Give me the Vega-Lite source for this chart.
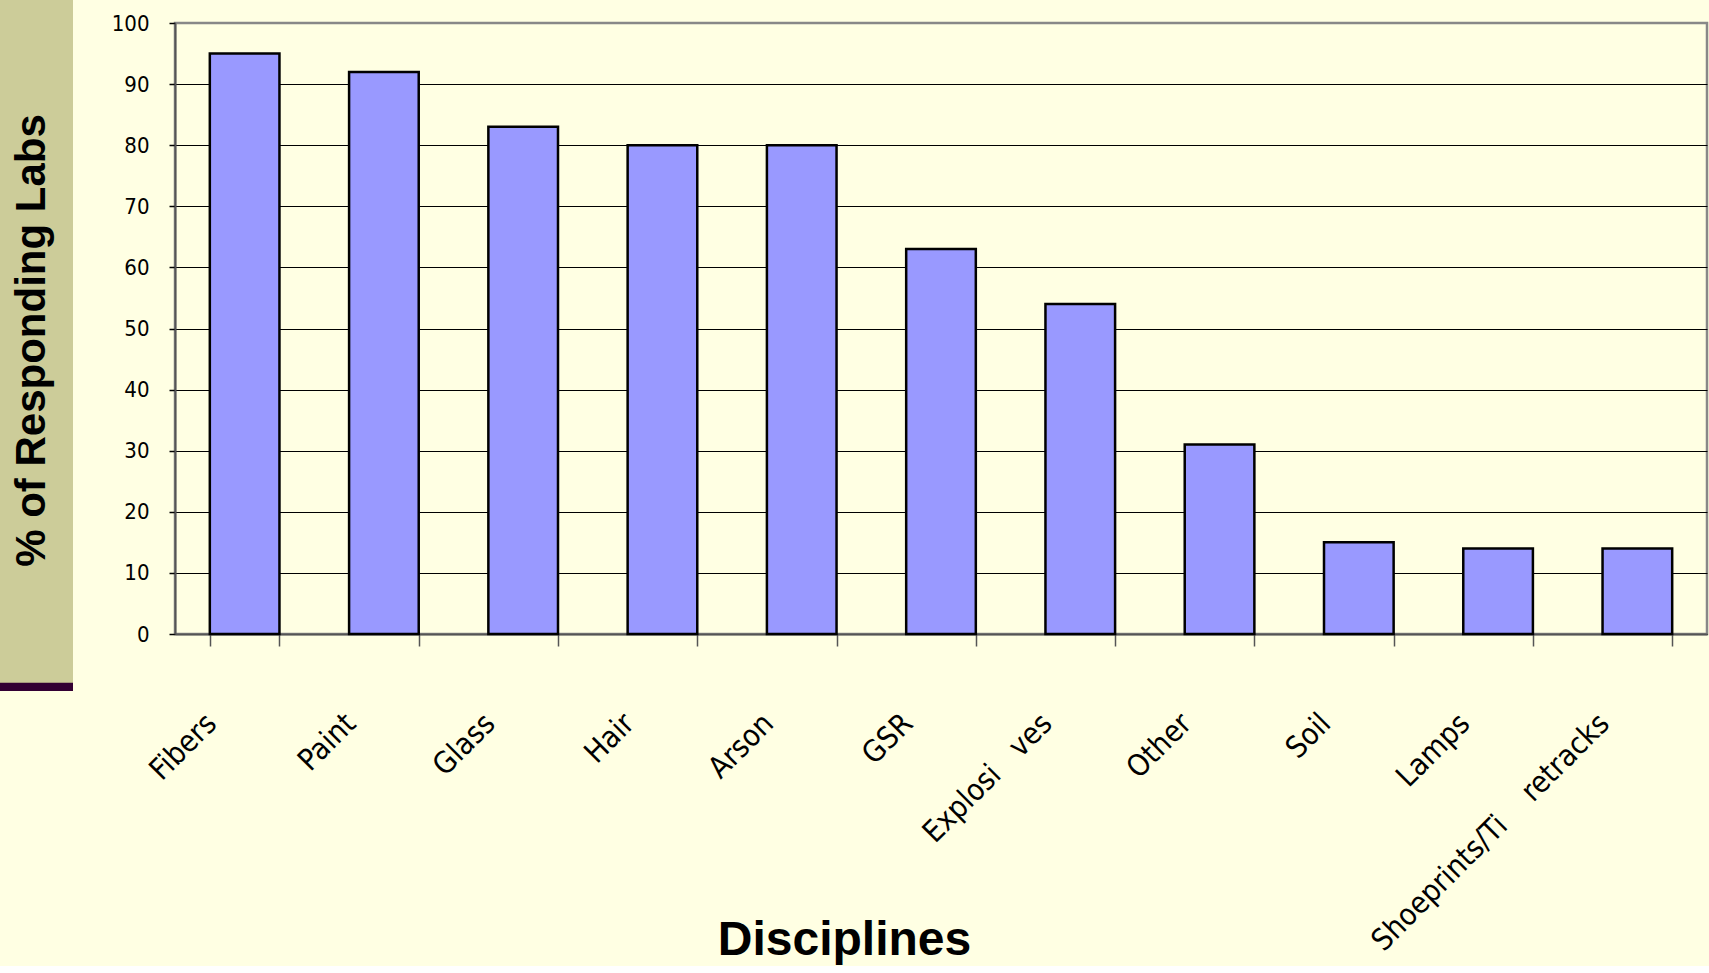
{
  "$schema": "https://vega.github.io/schema/vega-lite/v6.json",
  "background": "#FFFFE3",
  "padding": 0,
  "spacing": 36,
  "config": {"view": {"stroke": null}},
  "hconcat": [
    {
      "width": 73,
      "height": 691,
      "view": {"fill": "#CCCC99", "stroke": null},
      "layer": [
        {
          "data": {"values": [{"y": 0, "y2": 1.2}]},
          "mark": {"type": "rect", "color": "#330033"},
          "encoding": {
            "y": {"field": "y", "type": "quantitative", "scale": {"domain": [0, 100], "nice": false}, "axis": null},
            "y2": {"field": "y2"}
          }
        },
        {
          "data": {"values": [{"t": "% of Responding Labs"}]},
          "mark": {"type": "text", "angle": 270, "font": "Liberation Sans", "fontWeight": "bold", "fontSize": 42, "color": "#000000", "baseline": "middle", "align": "center", "dx": 5, "dy": -5},
          "encoding": {"text": {"field": "t", "type": "nominal"}}
        }
      ]
    },
    {
      "spacing": 0,
      "vconcat": [
        {
          "width": 1532,
          "height": 1,
          "view": {"fill": "#FFFFE3", "stroke": null},
          "data": {"values": []},
          "mark": "point",
          "encoding": {}
        },
        {
          "width": 1532,
          "height": 611,
          "view": {"stroke": "#888888", "strokeWidth": 2.5},
          "data": {
            "values": [
              {"discipline": "Fibers", "pct": 95},
              {"discipline": "Paint", "pct": 92},
              {"discipline": "Glass", "pct": 83},
              {"discipline": "Hair", "pct": 80},
              {"discipline": "Arson", "pct": 80},
              {"discipline": "GSR", "pct": 63},
              {"discipline": "Explosi\u00a0\u00a0\u00a0ves", "pct": 54},
              {"discipline": "Other", "pct": 31},
              {"discipline": "Soil", "pct": 15},
              {"discipline": "Lamps", "pct": 14},
              {"discipline": "Shoeprints/Ti\u00a0\u00a0\u00a0\u00a0retracks", "pct": 14}
            ]
          },
          "mark": {"type": "bar", "fill": "#9999FF", "stroke": "#000000", "strokeWidth": 2.5},
          "encoding": {
            "x": {
              "field": "discipline",
              "type": "nominal",
              "sort": null,
              "scale": {"paddingInner": 0.5, "paddingOuter": 0.25},
              "axis": {
                "title": "Disciplines",
                "titleFont": "Liberation Sans",
                "titleFontWeight": "bold",
                "titleFontSize": 48,
                "titleColor": "#000000",
                "titleX": 669,
                "titleY": 320,
                "titleBaseline": "alphabetic",
                "titleAlign": "center",
                "labelAngle": -45,
                "labelAlign": "right",
                "labelBaseline": "top",
                "labelPadding": 62,
                "labelOffset": -44,
                "labelFont": "DejaVu Sans Condensed, DejaVu Sans, sans-serif",
                "labelFontSize": 30,
                "labelColor": "#000000",
                "labelLimit": 0,
                "labelOverlap": false,
                "tickBand": "extent",
                "tickSize": 12,
                "tickColor": "#555555",
                "tickWidth": 1.5,
                "domainColor": "#555555",
                "domainWidth": 2,
                "grid": false
              }
            },
            "y": {
              "field": "pct",
              "type": "quantitative",
              "scale": {"domain": [0, 100], "nice": false},
              "axis": {
                "values": [0, 10, 20, 30, 40, 50, 60, 70, 80, 90, 100],
                "title": " ",
                "titleFontSize": 1,
                "titleX": 0,
                "titleY": -20,
                "titleAngle": 0,
                "titleAlign": "left",
                "titleBaseline": "top",
                "titleColor": "#FFFFE3",
                "labelFont": "DejaVu Sans Condensed, DejaVu Sans, sans-serif",
                "labelFontSize": 22,
                "labelColor": "#000000",
                "labelPadding": 20,
                "tickSize": 6,
                "tickColor": "#000000",
                "tickWidth": 1.5,
                "domainColor": "#555555",
                "domainWidth": 2,
                "grid": true,
                "gridColor": {"condition": {"test": "datum.value === 100", "value": "#888888"}, "value": "#000000"},
                "gridWidth": 1,
                "gridOpacity": 1
              }
            }
          }
        }
      ]
    }
  ]
}
